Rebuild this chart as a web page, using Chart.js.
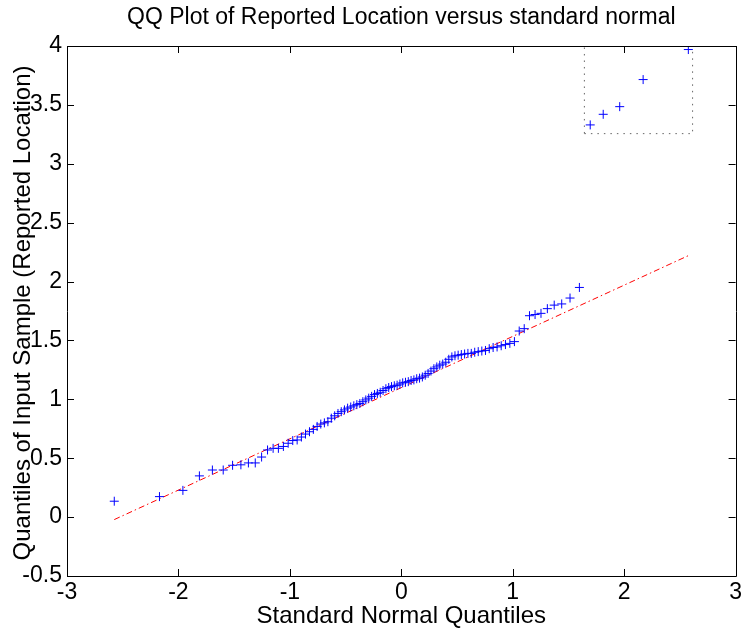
<!DOCTYPE html>
<html>
<head>
<meta charset="utf-8">
<title>QQ Plot</title>
<script src="https://cdn.jsdelivr.net/npm/chart.js@4.4.1/dist/chart.umd.min.js"></script>
<style>
  html, body { margin: 0; padding: 0; background: #fff; }
  canvas { display: block; }
</style>
</head>
<body>
<canvas id="qqChart" width="745" height="632"></canvas>
<script>
// standard normal quantiles for the 100 sorted samples
const normalQuantiles = [
  -2.5758, -2.1701, -1.9600, -1.8119, -1.6954, -1.5982, -1.5141, -1.4395, -1.3722, -1.3106,
  -1.2536, -1.2004, -1.1503, -1.1031, -1.0581, -1.0152, -0.9741, -0.9346, -0.8965, -0.8596,
  -0.8239, -0.7892, -0.7554, -0.7225, -0.6903, -0.6588, -0.6280, -0.5978, -0.5681, -0.5388,
  -0.5101, -0.4817, -0.4538, -0.4261, -0.3989, -0.3719, -0.3451, -0.3186, -0.2924, -0.2663,
  -0.2404, -0.2147, -0.1891, -0.1637, -0.1383, -0.1130, -0.0878, -0.0627, -0.0376, -0.0125,
  0.0125, 0.0376, 0.0627, 0.0878, 0.1130, 0.1383, 0.1637, 0.1891, 0.2147, 0.2404,
  0.2663, 0.2924, 0.3186, 0.3451, 0.3719, 0.3989, 0.4261, 0.4538, 0.4817, 0.5101,
  0.5388, 0.5681, 0.5978, 0.6280, 0.6588, 0.6903, 0.7225, 0.7554, 0.7892, 0.8239,
  0.8596, 0.8965, 0.9346, 0.9741, 1.0152, 1.0581, 1.1031, 1.1503, 1.2004, 1.2536,
  1.3106, 1.3722, 1.4395, 1.5141, 1.5982, 1.6954, 1.8119, 1.9600, 2.1701, 2.5758
];

// sorted reported locations
const reportedLocation = [
  0.135, 0.174, 0.227, 0.35, 0.40, 0.40, 0.44, 0.444, 0.46, 0.46,
  0.51, 0.57, 0.584, 0.584, 0.60, 0.627, 0.65, 0.655, 0.68, 0.705,
  0.725, 0.745, 0.77, 0.79, 0.80, 0.81, 0.84, 0.86, 0.88, 0.895,
  0.91, 0.925, 0.935, 0.945, 0.955, 0.965, 0.98, 0.995, 1.01, 1.025,
  1.04, 1.05, 1.06, 1.075, 1.09, 1.10, 1.108, 1.115, 1.12, 1.13,
  1.14, 1.145, 1.15, 1.16, 1.165, 1.175, 1.18, 1.19, 1.205, 1.22,
  1.24, 1.26, 1.275, 1.29, 1.30, 1.315, 1.34, 1.36, 1.37, 1.375,
  1.38, 1.385, 1.39, 1.39, 1.40, 1.405, 1.41, 1.415, 1.43, 1.44,
  1.445, 1.455, 1.465, 1.475, 1.49, 1.58, 1.60, 1.71, 1.72, 1.73,
  1.77, 1.80, 1.81, 1.86, 1.95, 3.33, 3.42, 3.485, 3.715, 3.97
];

// reference line through the quartiles, over the data range
const fitLineX = [-2.5758, 2.5758];
const fitLineY = [-0.021, 2.22];

// dotted selection box around the outliers
const boxX = [1.643, 2.614, 2.614, 1.643, 1.643];
const boxY = [3.256, 3.256, 4.0, 4.0, 3.256];

const xTicks = [-3, -2, -1, 0, 1, 2, 3];
const yTicks = [-0.5, 0, 0.5, 1, 1.5, 2, 2.5, 3, 3.5, 4];

const FONT = '"Liberation Sans", Arial, Helvetica, sans-serif';

const zip = (xs, ys) => xs.map((x, i) => ({ x: x, y: ys[i] }));

// box + inward ticks on all four sides, and the three text labels
const matlabAxes = {
    id: 'matlabAxes',
    afterDraw(chart) {
        const { ctx, chartArea: a, scales } = chart;
        const tl = 7;
        ctx.save();
        ctx.strokeStyle = '#000';
        ctx.lineWidth = 1;
        ctx.beginPath();
        ctx.rect(Math.round(a.left) + 0.5, Math.round(a.top) + 0.5,
                 Math.round(a.right - a.left), Math.round(a.bottom - a.top));
        xTicks.forEach(v => {
            const px = Math.round(scales.x.getPixelForValue(v)) + 0.5;
            ctx.moveTo(px, a.bottom); ctx.lineTo(px, a.bottom - tl);
            ctx.moveTo(px, a.top); ctx.lineTo(px, a.top + tl);
        });
        yTicks.forEach(v => {
            const py = Math.round(scales.y.getPixelForValue(v)) + 0.5;
            ctx.moveTo(a.left, py); ctx.lineTo(a.left + tl, py);
            ctx.moveTo(a.right, py); ctx.lineTo(a.right - tl, py);
        });
        ctx.stroke();

        ctx.fillStyle = '#000';
        ctx.textAlign = 'center';
        ctx.textBaseline = 'middle';
        const cx = (a.left + a.right) / 2;
        ctx.font = '23px ' + FONT;
        ctx.fillText('QQ Plot of Reported Location versus standard normal', cx, 18);
        ctx.font = '24px ' + FONT;
        ctx.fillText('Standard Normal Quantiles', cx, 616);
        ctx.translate(23, (a.top + a.bottom) / 2 + 2);
        ctx.rotate(-Math.PI / 2);
        ctx.fillText('Quantiles of Input Sample (Reported Location)', 0, 0);
        ctx.restore();
    }
};

new Chart(document.getElementById('qqChart').getContext('2d'), {
    type: 'scatter',
    data: {
        datasets: [
            {
                label: 'samples',
                data: zip(normalQuantiles, reportedLocation),
                pointStyle: 'cross',
                pointRadius: 4.5,
                borderColor: '#0000ff',
                backgroundColor: '#0000ff',
                borderWidth: 1,
                showLine: false,
                order: 0
            },
            {
                label: 'fit',
                data: zip(fitLineX, fitLineY),
                showLine: true,
                borderColor: '#ff0000',
                borderWidth: 1,
                borderDash: [6, 3, 1.5, 3],
                pointRadius: 0,
                order: 1
            },
            {
                label: 'box',
                data: zip(boxX, boxY),
                showLine: true,
                borderColor: '#666666',
                borderWidth: 1,
                borderDash: [1.5, 5],
                pointRadius: 0,
                order: 2
            }
        ]
    },
    options: {
        responsive: false,
        animation: false,
        layout: { padding: { top: 46, right: 7, left: 0, bottom: 0 } },
        plugins: {
            legend: { display: false },
            title: { display: false },
            tooltip: { enabled: false }
        },
        scales: {
            x: {
                type: 'linear',
                min: -3, max: 3,
                afterFit: s => { s.height = 56; },
                afterBuildTicks: s => { s.ticks = xTicks.map(v => ({ value: v })); },
                grid: { display: false, drawTicks: false },
                border: { display: false },
                ticks: {
                    color: '#000', font: { size: 23, family: FONT }, padding: 3, maxRotation: 0,
                    callback: v => String(v)
                }
            },
            y: {
                type: 'linear',
                min: -0.5, max: 4,
                afterFit: s => { s.width = 67; },
                afterBuildTicks: s => { s.ticks = yTicks.map(v => ({ value: v })); },
                grid: { display: false, drawTicks: false },
                border: { display: false },
                ticks: {
                    color: '#000', font: { size: 23, family: FONT }, padding: 5,
                    callback: v => String(v)
                }
            }
        }
    },
    plugins: [matlabAxes]
});
</script>
</body>
</html>
